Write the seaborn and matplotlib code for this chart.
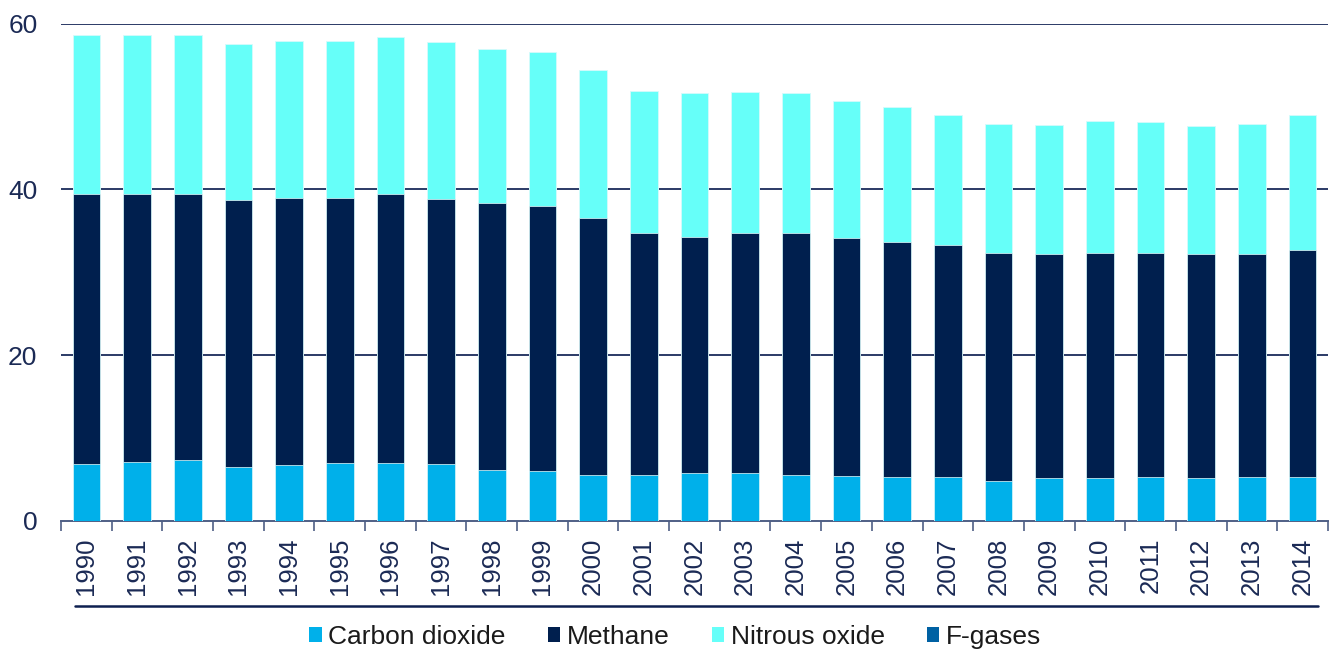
import matplotlib
matplotlib.use("Agg")
import matplotlib.pyplot as plt
from matplotlib.lines import Line2D
from matplotlib.patches import Patch
import numpy as np
import pandas as pd
import seaborn as sns

# Agricultural greenhouse gas emissions by gas
years = [str(y) for y in range(1990, 2015)]
carbon_dioxide = [6.9, 7.15, 7.3, 6.5, 6.7, 7.0, 7.0, 6.9, 6.2, 6.05, 5.6, 5.6, 5.8,
                  5.8, 5.6, 5.45, 5.3, 5.3, 4.8, 5.15, 5.15, 5.3, 5.15, 5.3, 5.3]
methane = [32.6, 32.35, 32.2, 32.2, 32.3, 32.0, 32.5, 31.9, 32.2, 31.95, 30.9, 29.2, 28.5,
           28.9, 29.1, 28.75, 28.4, 27.95, 27.5, 27.05, 27.15, 27.0, 27.05, 26.9, 27.35]
nitrous_oxide = [19.1, 19.1, 19.1, 18.8, 18.95, 18.95, 18.9, 19.0, 18.6, 18.6, 17.9, 17.1, 17.35,
                 17.1, 16.95, 16.5, 16.2, 15.75, 15.6, 15.6, 15.9, 15.8, 15.4, 15.7, 16.3]
f_gases = [0.0] * len(years)

series_names = ["Carbon dioxide", "Methane", "Nitrous oxide", "F-gases"]
series_values = [carbon_dioxide, methane, nitrous_oxide, f_gases]
series_colors = ["#00B0EA", "#001F4E", "#66FFF9", "#0061A3"]
text_color = "#1B2A55"

df = pd.DataFrame({"year": years})
cum = np.zeros(len(years))
for name, vals in zip(series_names, series_values):
    cum = cum + np.array(vals)
    df[name + "_top"] = cum

sns.set_theme(style="white")
plt.rcParams["font.family"] = ["Liberation Sans", "DejaVu Sans"]

fig = plt.figure(figsize=(13.29, 6.51), dpi=100)
ax = fig.add_axes([0.0459, 0.1997, 0.9533, 0.7639])

# Stack by overdrawing cumulative totals from the top layer downwards
for name, color in reversed(list(zip(series_names, series_colors))):
    sns.barplot(data=df, x="year", y=name + "_top", order=years, color=color,
                saturation=1, width=0.545, ax=ax, edgecolor="#E8FFFF",
                linewidth=0.5, zorder=3)

ax.set_xlim(-0.5, len(years) - 0.5)
ax.set_ylim(0, 60)
ax.set_yticks([0, 20, 40, 60])
ax.set_xlabel("")
ax.set_ylabel("")

for v in [20, 40, 60]:
    ax.axhline(v, color="#2B3A66", linewidth=1.4, zorder=1)

for s in ["top", "right", "left"]:
    ax.spines[s].set_visible(False)
ax.spines["bottom"].set_color("#4F5F85")
ax.spines["bottom"].set_linewidth(1.4)

ax.tick_params(axis="y", length=0, pad=17, labelsize=19, labelcolor=text_color)
ax.tick_params(axis="x", which="major", length=0, pad=12, labelsize=18.5,
               labelcolor=text_color, labelrotation=90)
ax.set_xticks(np.arange(-0.5, len(years)), minor=True)
ax.tick_params(axis="x", which="minor", length=7, width=1.2, color="#4F5F85",
               direction="out", bottom=True)

# Rule below the year labels
fig.add_artist(Line2D([0.0564, 0.9917], [0.069, 0.069], transform=fig.transFigure,
                      color="#0E2050", linewidth=1.8))

handles = [Patch(facecolor=c, edgecolor="none") for c in series_colors]
fig.legend(handles, series_names, loc="center", bbox_to_anchor=(0.508, 0.0215),
           ncol=4, frameon=False, handlelength=0.47, handleheight=0.47,
           handletextpad=0.25, columnspacing=1.6, fontsize=19, labelcolor="#1A1A1A")

fig.savefig("out.png", dpi=100)
